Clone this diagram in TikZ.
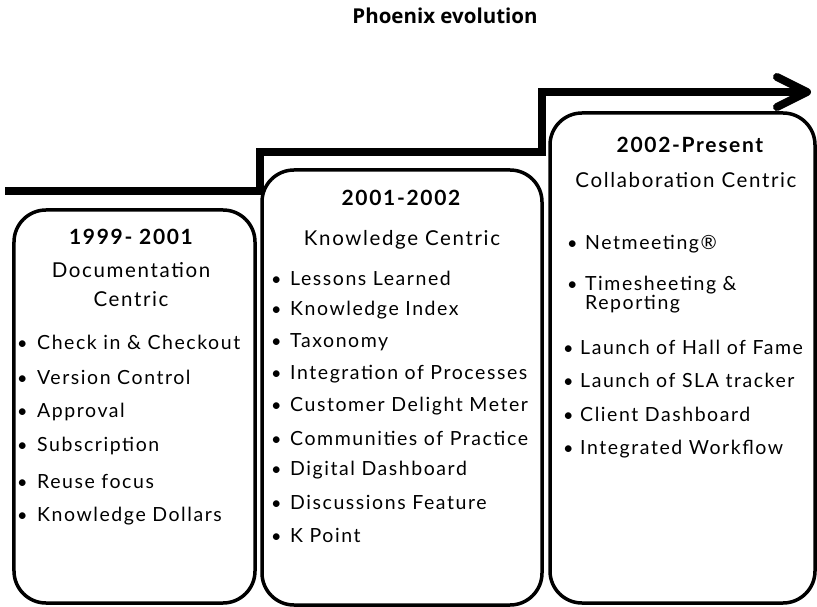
\documentclass[tikz,border=0pt]{standalone}
\usepackage{fontspec}
\setmainfont{Lato}[LetterSpace=8]
\newfontfamily\titlefont{Open Sans}
\usetikzlibrary{arrows.meta}
\newcommand\bul[1]{\makebox[#1][l]{\fontsize{18bp}{18bp}\selectfont•}}

\begin{document}
\begin{tikzpicture}[x=1bp,y=-1bp,
  era/.style={draw, line width=3.5bp, rounded corners=32bp, inner sep=0pt},
  yearhead/.style={font=\fontsize{21bp}{23bp}\selectfont\bfseries, inner sep=0pt},
  focus/.style={font=\fontsize{20.5bp}{29bp}\selectfont, align=center, inner sep=0pt},
  item/.style={anchor=west, font=\fontsize{19.5bp}{19bp}\selectfont, inner sep=0pt, align=left},
  flow/.style={line width=8bp, line join=miter,
    -{Straight Barb[length=30bp,width=30bp,round]}}
]
\useasboundingbox (0,0) rectangle (817,607);

% title
\node[font=\titlefont\fontsize{20.5bp}{22bp}\selectfont\bfseries] (title) at (445,16) {Phoenix evolution};

% stepped timeline arrow
\coordinate (s0) at (5,191);
\coordinate (s1) at (260,191);
\coordinate (s2) at (260,152);
\coordinate (s3) at (542,152);
\coordinate (s4) at (542,92);
\coordinate (s5) at (811,92);
\draw[flow] (s0) -- (s1) -- (s2) -- (s3) -- (s4) -- (s5);

% era boxes
\node[era, minimum width=241bp, minimum height=393bp] (box1) at (134.5,406.5) {};
\node[era, minimum width=280bp, minimum height=435bp] (box2) at (402,387.5) {};
\node[era, minimum width=265bp, minimum height=490bp] (box3) at (682.5,358) {};

% 1999-2001
\node[yearhead] (h1) at (131,237) {1999- 2001};
\node[focus] (f1) at (131,285) {Documentation\\Centric};
\node[item] (a1) at (17,342) {\bul{20bp}Check in \& Checkout};
\node[item] (a2) at (17,377) {\bul{20bp}Version Control};
\node[item] (a3) at (17,412) {\bul{20bp}Approval};
\node[item] (a4) at (17,446) {\bul{20bp}Subscription};
\node[item] (a5) at (17,481) {\bul{20bp}Reuse focus};
\node[item] (a6) at (17,516) {\bul{20bp}Knowledge Dollars};

% 2001-2002
\node[yearhead] (h2) at (401,198) {2001-2002};
\node[focus] (f2) at (402,240) {Knowledge Centric};
\node[item] (b1) at (271,278) {\bul{19bp}Lessons Learned};
\node[item] (b2) at (271,310) {\bul{19bp}Knowledge Index};
\node[item] (b3) at (271,342) {\bul{19bp}Taxonomy};
\node[item] (b4) at (271,374) {\bul{19bp}Integration of Processes};
\node[item] (b5) at (271,406) {\bul{19bp}Customer Delight Meter};
\node[item] (b6) at (271,438) {\bul{19bp}Communities of Practice};
\node[item] (b7) at (271,470) {\bul{19bp}Digital Dashboard};
\node[item] (b8) at (271,502) {\bul{19bp}Discussions Feature};
\node[item] (b9) at (271,535) {\bul{19bp}K Point};

% 2002-Present
\node[yearhead] (h3) at (690,145) {2002-Present};
\node[focus] (f3) at (686,180) {Collaboration Centric};
\node[item] (c1) at (567,244) {\bul{18bp}Netmeeting®};
\node[item, anchor=north west] (c2) at (567,276) {\bul{18bp}Timesheeting \&\\\hphantom{\bul{18bp}}Reporting};
\node[item] (c3) at (563,347) {\bul{17bp}Launch of Hall of Fame};
\node[item] (c4) at (563,380) {\bul{17bp}Launch of SLA tracker};
\node[item] (c5) at (563,414) {\bul{17bp}Client Dashboard};
\node[item] (c6) at (563,449) {\bul{17bp}Integrated Workflow};
\end{tikzpicture}
\end{document}
